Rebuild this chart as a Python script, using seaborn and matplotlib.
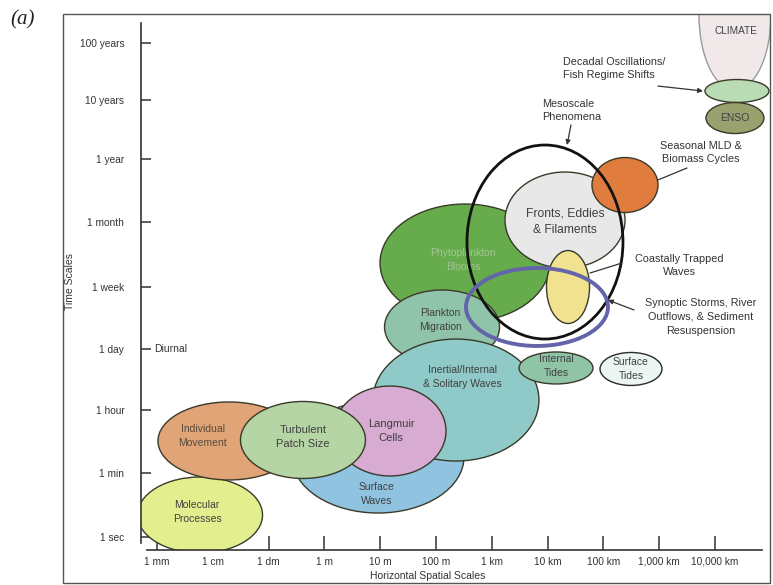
import matplotlib
matplotlib.use("Agg")
import matplotlib.pyplot as plt
from matplotlib.patches import Ellipse, Rectangle
import pandas as pd
import seaborn as sns

# Horizontal axis: log10 of length in metres
x_tick_pos = [-3, -2, -1, 0, 1, 2, 3, 4, 5, 6, 7]
x_tick_labels = ["1 mm", "1 cm", "1 dm", "1 m", "10 m", "100 m", "1 km",
                 "10 km", "100 km", "1,000 km", "10,000 km"]
# Vertical axis: ordinal time-scale steps
y_tick_pos = [0, 1.046, 2.062, 3.045, 4.058, 5.111, 6.126, 7.082, 8.0]
y_tick_labels = ["1 sec", "1 min", "1 hour", "1 day", "1 week", "1 month",
                 "1 year", "10 years", "100 years"]

# Filled process domains, listed back to front
proc_label = ["CLIMATE", "", "ENSO", "Phytoplankton\nBlooms", "Plankton\nMigration",
              "Surface\nWaves", "Inertial/Internal\n& Solitary Waves", "Langmuir\nCells",
              "Molecular\nProcesses", "Individual\nMovement", "Turbulent\nPatch Size",
              "Internal\nTides", "Fronts, Eddies\n& Filaments", "", "", "Surface\nTides"]
proc_x = [7.358, 7.394, 7.358, 2.520, 2.108, 0.961, 2.358, 1.176,
          -2.229, -1.710, -0.384, 4.151, 4.312, 4.366, 5.387, 5.495]
proc_y = [8.458, 7.228, 6.790, 4.442, 3.406, 1.300, 2.223, 1.721,
          0.361, 1.560, 1.576, 2.742, 5.138, 4.053, 5.705, 2.726]
proc_w = [1.290, 1.147, 1.039, 3.047, 2.061, 3.082, 2.975, 2.007,
          2.240, 2.545, 2.240, 1.326, 2.151, 0.771, 1.183, 1.111]
proc_h = [2.429, 0.372, 0.502, 1.911, 1.198, 1.814, 1.976, 1.457,
          1.231, 1.263, 1.247, 0.518, 1.555, 1.182, 0.891, 0.534]
proc_color = ["#f1e9e9", "#b9dcb4", "#97a26f", "#66ab4c", "#8fc4aa",
              "#8fc3df", "#8fc9c8", "#d8abd3", "#e3ee8f", "#e0a476",
              "#b5d5a4", "#8fc4a7", "#e8e8e8", "#f1e290", "#e07d3e", "#ecf6f1"]
proc_edge = ["#9a9a9a", "#3a3a2a", "#3a3a2a", "#3a3a2a", "#3a3a2a",
             "#3a3a2a", "#3a3a2a", "#3a3a2a", "#3a3a2a", "#3a3a2a",
             "#3a3a2a", "#3a3a2a", "#3a3a2a", "#3a3a2a", "#3a3a2a", "#2a2a2a"]
label_dx = [0.02, 0, 0, -0.03, -0.03, -0.02, 0.11, 0.02,
            -0.05, -0.47, 0, 0, 0, 0, 0, 0]
label_dy = [-0.26, 0, 0, 0.05, 0.11, -0.60, 0.37, 0,
            0.05, 0.08, 0.05, 0.03, -0.03, 0, 0, 0]
label_size = [7.2, 7.5, 7.5, 7.5, 7.5, 7.5, 7.5, 8.0,
              7.5, 7.5, 8.0, 7.5, 8.7, 7.5, 7.5, 7.5]
label_color = ["#404040", "#404040", "#404040", "#a3c693", "#404040",
               "#404040", "#404040", "#404040", "#404040", "#5a4a3a",
               "#404040", "#404040", "#404040", "#404040", "#404040", "#404040"]

procs = pd.DataFrame(dict(label=proc_label, x=proc_x, y=proc_y, w=proc_w, h=proc_h,
                          color=proc_color, edge=proc_edge, dx=label_dx, dy=label_dy,
                          fsize=label_size, tcolor=label_color))

# Outlined-only domains
ring_x = [3.953, 3.810]
ring_y = [4.782, 3.730]
ring_w = [2.796, 2.545]
ring_h = [3.142, 1.263]
ring_color = ["#111111", "#6464ab"]
ring_lw = [2.0, 2.8]

# Callout texts with leader lines
note_text = ["Decadal Oscillations/\nFish Regime Shifts", "Mesoscale\nPhenomena",
             "Seasonal MLD &\nBiomass Cycles", "Coastally Trapped\nWaves",
             "Synoptic Storms, River\nOutflows, & Sediment\nResuspension"]
note_x = [4.276, 3.900, 6.749, 6.355, 6.749]
note_y = [7.590, 6.912, 6.232, 4.402, 3.568]
note_ha = ["left", "left", "center", "center", "center"]
line_x0 = [5.978, 4.419, 6.498, 5.333, 5.548]
line_y0 = [7.308, 6.677, 5.981, 4.442, 3.681]
line_x1 = [6.785, 4.348, 5.978, 4.760, 5.082]
line_y1 = [7.228, 6.353, 5.787, 4.280, 3.843]
line_head = [True, True, False, False, True]

sns.set_theme(style="white")
plt.rcParams["font.family"] = ["Liberation Sans", "DejaVu Sans"]

fig = plt.figure(figsize=(7.73, 5.85), dpi=100)
ax = fig.add_axes([141 / 773, 35 / 585, 629 / 773, 536 / 585])
ax.set_xlim(-3.287, 7.986)
ax.set_ylim(-0.206, 8.475)
ax.patch.set_facecolor("none")

for i, r in procs.iterrows():
    e = Ellipse((r["x"], r["y"]), r["w"], r["h"], facecolor=r["color"],
                edgecolor=r["edge"], lw=1.0, zorder=2 + i * 0.01)
    ax.add_patch(e)
    e.set_clip_box(ax.bbox)
    e.set_clip_on(True)
    if r["label"]:
        ax.text(r["x"] + r["dx"], r["y"] + r["dy"], r["label"], ha="center",
                va="center", fontsize=r["fsize"], color=r["tcolor"],
                linespacing=1.45, zorder=3)

for x, y, w, h, c, lw in zip(ring_x, ring_y, ring_w, ring_h, ring_color, ring_lw):
    ax.add_patch(Ellipse((x, y), w, h, facecolor="none", edgecolor=c, lw=lw, zorder=4))

for t, x, y, ha, x0, y0, x1, y1, head in zip(note_text, note_x, note_y, note_ha,
                                              line_x0, line_y0, line_x1, line_y1, line_head):
    ax.text(x, y, t, ha=ha, va="center", fontsize=7.8, color="#333333",
            linespacing=1.45, zorder=5, multialignment=ha)
    style = "-|>" if head else "-"
    ax.annotate("", xy=(x1, y1), xytext=(x0, y0),
                arrowprops=dict(arrowstyle=style, color="#333333", lw=0.9,
                                mutation_scale=7, shrinkA=0, shrinkB=0), zorder=5)

ax.text(-3.054, y_tick_pos[3], "Diurnal", ha="left", va="center", fontsize=7.5,
        color="#333333")

# Axes styling
sns.despine(ax=ax, top=True, right=True)
for s in ("left", "bottom"):
    ax.spines[s].set_color("#333333")
    ax.spines[s].set_linewidth(1.2)
ax.spines["left"].set_bounds(-0.092, 8.329)
ax.spines["bottom"].set_bounds(-3.179, 7.842)

ax.set_xticks(x_tick_pos)
ax.set_xticklabels(x_tick_labels)
ax.set_yticks(y_tick_pos)
ax.set_yticklabels(y_tick_labels)
ax.tick_params(axis="x", direction="in", length=10, width=1.1, color="#333333",
               labelsize=7.3, labelcolor="#333333", pad=5, bottom=True)
ax.tick_params(axis="y", direction="in", length=7, width=1.1, color="#333333",
               labelsize=7.3, labelcolor="#333333", pad=12, left=True)
ax.grid(False)

ax.set_xlabel("Horizontal Spatial Scales", fontsize=7.5, color="#333333")
ax.xaxis.set_label_coords(0.456, -0.039)
ax.set_ylabel("Time Scales", fontsize=7.5, color="#333333")
ax.yaxis.set_label_coords(-0.105, 0.5)

# Outer frame and panel letter
fig.patches.append(Rectangle((63 / 773, 2 / 585), 707 / 773, 569 / 585,
                             transform=fig.transFigure, fill=False,
                             edgecolor="#555555", lw=1.0))
fig.text(23 / 773, 1 - 20 / 585, "(a)", ha="center", va="center", fontsize=15,
         style="italic", family=["Liberation Serif", "DejaVu Serif"], color="#222222")

fig.savefig("out.png", dpi=100)
